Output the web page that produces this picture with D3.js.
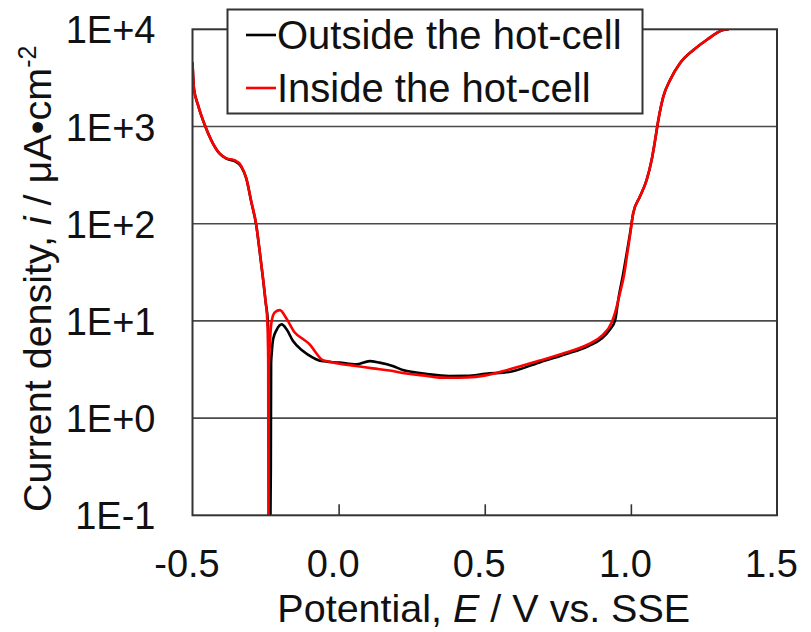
<!DOCTYPE html>
<html>
<head>
<meta charset="utf-8">
<script src="https://cdn.jsdelivr.net/npm/d3@7/dist/d3.min.js"></script>
<style>
  html, body { margin: 0; padding: 0; background: #fff; }
  text { font-family: "Liberation Sans", Arial, sans-serif; fill: #111; }
</style>
</head>
<body>
<svg id="chart" width="811" height="632"></svg>
<script>
// ---- Data (potential E in V vs. SSE, current density i in µA·cm^-2) ----
const outsideE = [-0.500,-0.495,-0.481,-0.458,-0.436,-0.407,-0.384,-0.356,-0.333,-0.316,-0.299,-0.282,-0.270,-0.259,-0.250,-0.242,-0.238,-0.235,-0.232,-0.231,-0.229,-0.224,-0.212,-0.195,-0.178,-0.156,-0.122,-0.088,-0.059,0.003,0.060,0.106,0.140,0.185,0.219,0.265,0.344,0.378,0.440,0.503,0.583,0.685,0.776,0.855,0.900,0.929,0.946,0.957,0.974,0.986,0.997,1.008,1.031,1.054,1.071,1.083,1.094,1.111,1.134,1.168,1.214,1.259,1.316,1.335];
const outsideI = [4570,2450,1660,1035,725,525,466,440,385,292,168,97,51.5,27.5,15.8,9.8,3.0,0.02,0.3,3.7,4.6,6.5,8.1,9.2,8.2,6.2,4.9,4.19,3.86,3.72,3.57,3.86,3.72,3.44,3.13,2.94,2.75,2.71,2.72,2.86,2.98,3.72,4.53,5.52,6.58,8.2,10.1,16.6,30.9,50,79,128,190,282,452,725,1167,2030,3000,4470,6120,7760,9840,10000];

const insideE = [-0.500,-0.495,-0.481,-0.458,-0.436,-0.407,-0.384,-0.356,-0.333,-0.316,-0.299,-0.282,-0.270,-0.259,-0.250,-0.244,-0.241,-0.240,-0.239,-0.236,-0.229,-0.218,-0.201,-0.178,-0.150,-0.122,-0.099,-0.082,-0.059,-0.042,0.003,0.060,0.117,0.174,0.231,0.288,0.344,0.378,0.440,0.503,0.583,0.685,0.776,0.855,0.900,0.934,0.946,0.963,0.977,0.988,0.998,1.008,1.031,1.054,1.071,1.083,1.094,1.111,1.134,1.168,1.214,1.259,1.316,1.335];
const insideI = [4570,2450,1660,1035,725,525,470,450,392,295,170,98,52,28,16,10,4,0.02,3,5.2,10,12.3,12.9,10.5,7.6,6.5,5.75,4.9,4.03,3.86,3.63,3.44,3.25,3.09,2.88,2.75,2.61,2.60,2.62,2.75,3.16,3.88,4.71,5.75,7.0,9.6,12.2,19.5,30,50,79,128,190,282,452,725,1167,2030,3000,4470,6120,7760,9840,10000];

const xTicks = [-0.5, 0.0, 0.5, 1.0, 1.5];
const yTicks = [0.1, 1, 10, 100, 1000, 10000];
const yTickLabels = ["1E-1","1E+0","1E+1","1E+2","1E+3","1E+4"];
const seriesNames = ["Outside the hot-cell", "Inside the hot-cell"];
const seriesColors = ["#000000", "#ff0000"];

// ---- Layout ----
const svg = d3.select("#chart");
const L = 192.5, R = 777, T = 29.3, B = 515.3;
const x = d3.scaleLinear().domain([-0.5, 1.5]).range([L, R]);
const y = d3.scaleLog().domain([0.1, 10000]).range([B, T]);
const FS = 38;

// clip
svg.append("defs").append("clipPath").attr("id", "clip")
  .append("rect").attr("x", L).attr("y", T).attr("width", R - L).attr("height", B - T);

// gridlines
svg.append("g").selectAll("line").data(yTicks.slice(1, -1)).join("line")
  .attr("x1", L).attr("x2", R)
  .attr("y1", d => y(d)).attr("y2", d => y(d))
  .attr("stroke", "#4a4a4a").attr("stroke-width", 1.6);

// x axis (inner ticks)
const xAxis = d3.axisBottom(x).tickValues(xTicks).tickSize(-11).tickFormat(d3.format(".1f"));
const gx = svg.append("g").attr("transform", `translate(0,${B})`).call(xAxis);
gx.select(".domain").remove();
gx.selectAll(".tick line").attr("stroke", "#333").attr("stroke-width", 1.6)
  .attr("display", d => (d === -0.5 || d === 1.5) ? "none" : null);
gx.selectAll(".tick text").attr("font-size", FS).attr("fill", "#111")
  .attr("font-family", "Liberation Sans, Arial, sans-serif")
  .attr("dx", -6).attr("y", 35).attr("dy", "0.71em")
  .text(d => d3.format(".1f")(d).replace("−", "-"));

// y axis labels
const yAxis = d3.axisLeft(y).tickValues(yTicks).tickSize(0)
  .tickFormat((d, i) => yTickLabels[i]);
const gy = svg.append("g").attr("transform", `translate(${L},0)`).call(yAxis);
gy.select(".domain").remove();
gy.selectAll(".tick text").attr("font-size", FS).attr("fill", "#111")
  .attr("font-family", "Liberation Sans, Arial, sans-serif")
  .attr("x", -37).attr("dy", "0.36em");

// curves
const line = d3.line().x(d => x(d[0])).y(d => y(d[1])).curve(d3.curveMonotoneX);
const series = [
  d3.zip(outsideE, outsideI),
  d3.zip(insideE, insideI)
];
const gLines = svg.append("g").attr("clip-path", "url(#clip)");
series.forEach((s, i) => {
  gLines.append("path").datum(s).attr("d", line)
    .attr("fill", "none").attr("stroke", seriesColors[i])
    .attr("stroke-width", 2.6).attr("stroke-linejoin", "round");
});

// frame
svg.append("rect").attr("x", L).attr("y", T).attr("width", R - L).attr("height", B - T)
  .attr("fill", "none").attr("stroke", "#333").attr("stroke-width", 2);

// legend
const lg = svg.append("g");
lg.append("rect").attr("x", 227.5).attr("y", 9.5).attr("width", 415).attr("height", 104)
  .attr("fill", "#fff").attr("stroke", "#333").attr("stroke-width", 2);
seriesNames.forEach((name, i) => {
  const yy = 35 + i * 53;
  lg.append("line").attr("x1", 246).attr("x2", 276).attr("y1", yy).attr("y2", yy)
    .attr("stroke", seriesColors[i]).attr("stroke-width", 2.6);
  lg.append("text").attr("x", 277).attr("y", yy + 13.5).attr("font-size", 40).text(name);
});

// axis titles
const xt = svg.append("text").attr("x", (L + R) / 2 - 1).attr("y", 622)
  .attr("text-anchor", "middle").attr("font-size", 39.5);
xt.append("tspan").text("Potential, ");
xt.append("tspan").attr("font-style", "italic").text("E");
xt.append("tspan").text(" / V vs. SSE");

const yt = svg.append("text").attr("transform", `translate(51,512) rotate(-90)`)
  .attr("text-anchor", "start").attr("font-size", 39.5);
yt.append("tspan").text("Current density, ");
yt.append("tspan").attr("font-style", "italic").text("i");
yt.append("tspan").text(" / μA•cm");
yt.append("tspan").attr("font-size", 25).attr("dy", -15).text("-2");
</script>
</body>
</html>
